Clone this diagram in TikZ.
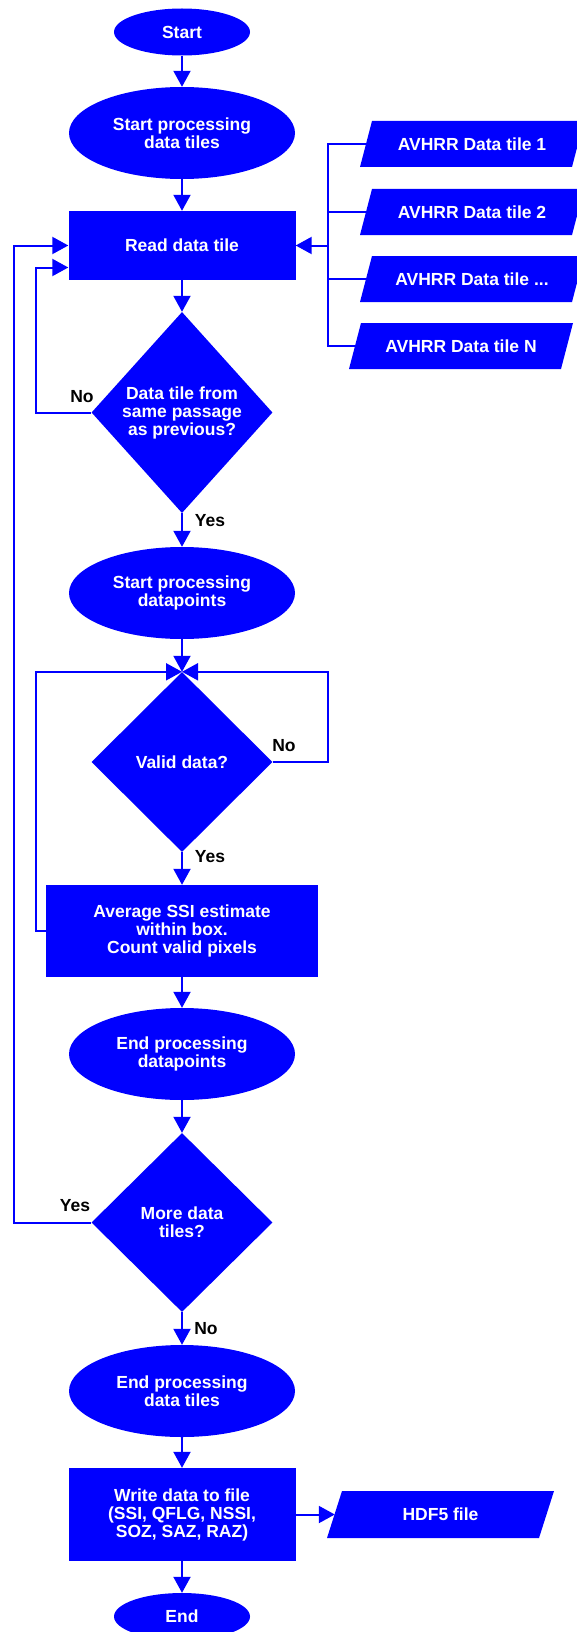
\documentclass[tikz,border=0pt]{standalone}
\usepackage{fontspec}
\setmainfont{Liberation Sans}
\usetikzlibrary{shapes.geometric,arrows.meta,calc}
\definecolor{fc}{RGB}{0,0,255}
\begin{document}
\begin{tikzpicture}[x=1pt,y=-1pt,
  txt/.style={font=\fontsize{17.5}{18}\selectfont\bfseries},
  base/.style={txt, fill=fc, text=white, align=center, inner sep=0pt},
  term/.style={base, ellipse, minimum width=136pt, minimum height=47pt},
  oval/.style={base, ellipse, minimum width=226pt, minimum height=92pt},
  proc/.style={base, rectangle, minimum width=227pt, minimum height=69pt},
  decision/.style={base, diamond, minimum width=181pt, minimum height=180pt},
  iolabel/.style={txt, text=white, inner sep=0pt, minimum width=212pt, minimum height=46pt},
  conn/.style={draw=fc, line width=2pt},
  arr/.style={conn, -{Triangle[length=16pt,width=17pt]}},
  lab/.style={txt, text=black, inner sep=0pt}
]
\useasboundingbox (0,0) rectangle (577,1632);

% main column
\node[term] (start) at (182,32) {Start};
\node[oval] (spdt) at (182,133) {Start processing\\data tiles};
\node[proc] (read) at (182,245.5) {Read data tile};
\node[decision, minimum height=201pt] (d1) at (182,412.5) {Data tile from\\same passage\\as previous?};
\node[oval] (sdp) at (182,593) {Start processing\\datapoints};
\node[decision] (vd) at (182,762) {Valid data?};
\node[proc, minimum width=272pt, minimum height=92pt] (avg) at (182,931) {Average SSI estimate\\within box.\\Count valid pixels};
\node[oval] (edp) at (182,1054) {End processing\\datapoints};
\node[decision, minimum height=179pt] (d3) at (182,1222.5) {More data\\tiles?};
\node[oval] (edt) at (182,1391) {End processing\\data tiles};
\node[proc, minimum height=93pt] (write) at (182,1514.5) {Write data to file\\(SSI, QFLG, NSSI,\\SOZ, SAZ, RAZ)};
\node[term] (end) at (182,1616.5) {End};

% input / output parallelograms
\fill[fc] (360,167) -- (572,167) -- (584,121) -- (372,121) -- cycle;
\node[iolabel] (a1) at (472,144) {AVHRR Data tile 1};
\fill[fc] (360,235) -- (572,235) -- (584,189) -- (372,189) -- cycle;
\node[iolabel] (a2) at (472,212) {AVHRR Data tile 2};
\fill[fc] (360,302) -- (572,302) -- (584,256) -- (372,256) -- cycle;
\node[iolabel] (a3) at (472,279) {AVHRR Data tile ...};
\fill[fc] (349,369) -- (561,369) -- (573,323) -- (361,323) -- cycle;
\node[iolabel] (aN) at (461,346) {AVHRR Data tile N};
\fill[fc] (327,1538) -- (539,1538) -- (554,1491) -- (342,1491) -- cycle;
\node[iolabel, minimum width=211pt, minimum height=47pt] (hdf) at (440.5,1514.5) {HDF5 file};

% helper coordinates for the vertical runs
\coordinate (xout) at (14,0);
\coordinate (xin) at (36,0);
\coordinate (xbus) at (328,0);
\coordinate (xr) at (328,0);

% straight flow
\draw[arr] (start.south) -- (spdt.north);
\draw[arr] (spdt.south) -- (read.north);
\draw[arr] (read.south) -- (d1.north);
\draw[arr] (d1.south) -- (sdp.north);
\draw[arr] (sdp.south) -- (vd.north);
\draw[arr] (vd.south) -- (avg.north);
\draw[arr] (avg.south) -- (edp.north);
\draw[arr] (edp.south) -- (d3.north);
\draw[arr] (d3.south) -- (edt.north);
\draw[arr] (edt.south) -- (write.north);
\draw[arr] (write.south) -- (end.north);
\draw[arr] (write.east) -- (hdf.west);

% loops
\draw[arr] (d1.west) -- (d1.west -| xin) |- ($(read.west)+(0,22)$);
\draw[arr] (d3.west) -- (d3.west -| xout) |- (read.west);
\draw[arr] (avg.west) -- (avg.west -| xin) |- (vd.north);
\draw[arr] (vd.east) -- (vd.east -| xr) |- (vd.north);

% input bus
\draw[conn] (a1.west) -- (a1.west -| xbus) -- (aN.west -| xbus) -- (aN.west);
\draw[conn] (a2.west) -- (a2.west -| xbus);
\draw[conn] (a3.west) -- (a3.west -| xbus);
\draw[arr] (read.east -| xbus) -- (read.east);

% branch labels
\node[lab] (lno1) at (82,397) {No};
\node[lab] (lyes1) at (210,521) {Yes};
\node[lab] (lno2) at (284,746) {No};
\node[lab] (lyes2) at (210,857) {Yes};
\node[lab] (lyes3) at (75,1206) {Yes};
\node[lab] (lno3) at (206,1329) {No};
\end{tikzpicture}
\end{document}
